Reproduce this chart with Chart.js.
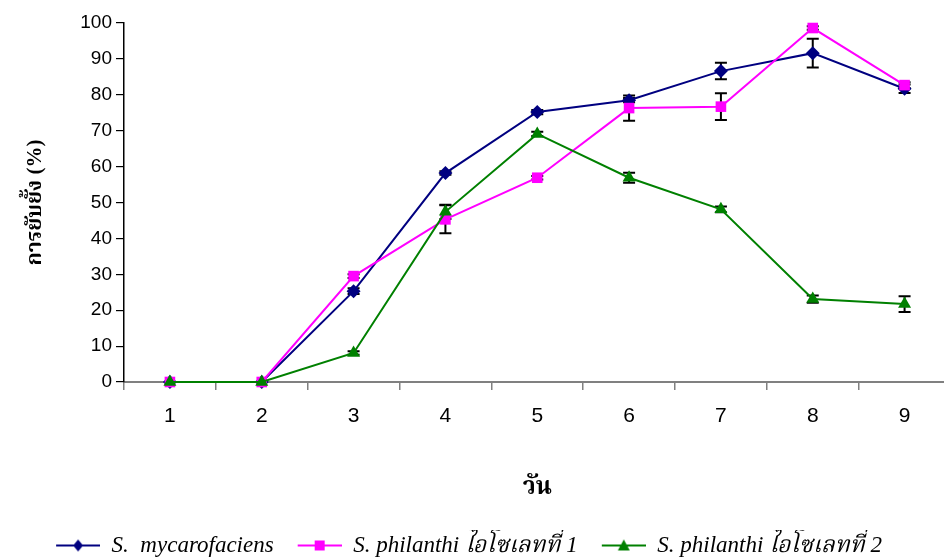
<!DOCTYPE html>
<html><head><meta charset="utf-8">
<script src="https://cdn.jsdelivr.net/npm/chart.js@4.4.0/dist/chart.umd.min.js"></script>
<style>
html,body{margin:0;padding:0;overflow:hidden;background:#fff;width:944px;height:558px}
#wrap{width:958px;height:558px}
</style></head><body>
<div id="wrap"><canvas id="c" width="958" height="558"></canvas></div>
<script>
const days = ['1','2','3','4','5','6','7','8','9'];
const seriesNames = ['S.  mycarofaciens', 'S. philanthi ไอโซเลทที่ 1', 'S. philanthi ไอโซเลทที่ 2'];
const myco    = [0, 0, 25.3, 58.2, 75.2, 78.5, 86.6, 91.6, 81.7];
const mycoErr = [0, 0, 0.8, 0.5, 0.6, 0.6, 2.3, 4.0, 1.2];
const phil1    = [0, 0, 29.5, 45.3, 56.9, 76.3, 76.7, 98.6, 82.7];
const phil1Err = [0, 0, 0.5, 3.9, 0.5, 3.5, 3.7, 0.5, 0.8];
const phil2    = [0, 0, 8.1, 47.4, 69.1, 56.9, 48.1, 23.1, 21.7];
const phil2Err = [0, 0, 0.5, 2.0, 0.6, 1.4, 0.8, 1.0, 2.2];
const yMin = 0, yMax = 100, yStep = 10;

const colors = ['#000080', '#FF00FF', '#008000'];
const styles = ['rectRot', 'rect', 'triangle'];

function legendIcon(color, style) {
  const c = document.createElement('canvas');
  c.width = 64; c.height = 16;
  const g = c.getContext('2d');
  const x0 = 20, cx = 42;
  g.strokeStyle = color; g.lineWidth = 2;
  g.beginPath(); g.moveTo(x0, 8); g.lineTo(64, 8); g.stroke();
  g.fillStyle = color;
  g.beginPath();
  if (style === 'rectRot') { g.moveTo(cx, 2); g.lineTo(cx + 5, 8); g.lineTo(cx, 14); g.lineTo(cx - 5, 8); }
  else if (style === 'rect') { g.rect(cx - 5, 3, 10, 10); }
  else { g.moveTo(cx, 2); g.lineTo(cx + 6, 13); g.lineTo(cx - 6, 13); }
  g.closePath(); g.fill();
  return c;
}

const errorBars = {
  id: 'errorBars',
  beforeDatasetsDraw(chart) {
    const ctx = chart.ctx, ys = chart.scales.y;
    chart.data.datasets.forEach((ds, i) => {
      const meta = chart.getDatasetMeta(i);
      meta.data.forEach((pt, j) => {
        const e = ds.errors[j]; if (!e) return;
        const v = ds.data[j];
        const t = ys.getPixelForValue(v + e), b = ys.getPixelForValue(v - e);
        ctx.save(); ctx.strokeStyle = '#000'; ctx.lineWidth = 2;
        ctx.beginPath();
        ctx.moveTo(pt.x, t); ctx.lineTo(pt.x, b);
        ctx.moveTo(pt.x - 6, t); ctx.lineTo(pt.x + 6, t);
        ctx.moveTo(pt.x - 6, b); ctx.lineTo(pt.x + 6, b);
        ctx.stroke(); ctx.restore();
      });
    });
  }
};

const values = [myco, phil1, phil2];
const errs = [mycoErr, phil1Err, phil2Err];
const orders = [2, 1, 0];
const radii = [7, 7.5, 7.5];
const datasets = values.map((d, i) => ({
  label: seriesNames[i], data: d, errors: errs[i],
  borderColor: colors[i], backgroundColor: colors[i], borderWidth: 2,
  pointStyle: styles[i], pointRadius: radii[i], pointBorderWidth: 0,
  pointBackgroundColor: colors[i], tension: 0, order: orders[i], clip: false
}));

const thai = "'Liberation Serif', 'Noto Serif Thai', 'Noto Sans Thai', serif";

new Chart(document.getElementById('c'), {
  type: 'line',
  data: { labels: days, datasets },
  plugins: [errorBars],
  options: {
    responsive: false, animation: false,
    layout: { padding: { top: 23, right: 0, left: -40, bottom: -9 } },
    plugins: {
      tooltip: { enabled: false },
      legend: {
        position: 'bottom',
        labels: {
          usePointStyle: true, pointStyleWidth: 64, boxHeight: 16,
          padding: 4, color: '#000',
          font: { family: thai, size: 23, style: 'italic' },
          generateLabels: () => seriesNames.map((n, i) => ({
            text: n, fillStyle: colors[i], strokeStyle: colors[i], lineWidth: 0,
            pointStyle: legendIcon(colors[i], styles[i]), datasetIndex: i, hidden: false
          }))
        }
      }
    },
    scales: {
      x: {
        type: 'category', offset: true,
        grid: { offset: true, drawOnChartArea: false, tickLength: 8, color: '#808080', lineWidth: 1.5 },
        border: { color: '#808080', width: 2 },
        ticks: { color: '#000', padding: 14, font: { family: "'Liberation Sans Narrow', 'Liberation Sans', sans-serif", size: 21 } },
        title: { display: true, text: 'วัน', color: '#000', font: { family: thai, size: 24, weight: 'bold' }, padding: { top: 30, bottom: 28 } }
      },
      y: {
        min: yMin, max: yMax,
        afterFit(s) { s.width = 164; },
        grid: { drawOnChartArea: false, tickLength: 8, color: '#000', lineWidth: 1.2 },
        border: { color: '#000', width: 1.5 },
        ticks: { stepSize: yStep, color: '#000', padding: 4, font: { family: "'Liberation Sans', Arial, sans-serif", size: 19 } },
        title: { display: true, text: 'การยับยั้ง (%)', color: '#000', font: { family: thai, size: 21, weight: 'bold' }, padding: { top: 63, bottom: 0 } }
      }
    }
  }
});
</script>
</body></html>
